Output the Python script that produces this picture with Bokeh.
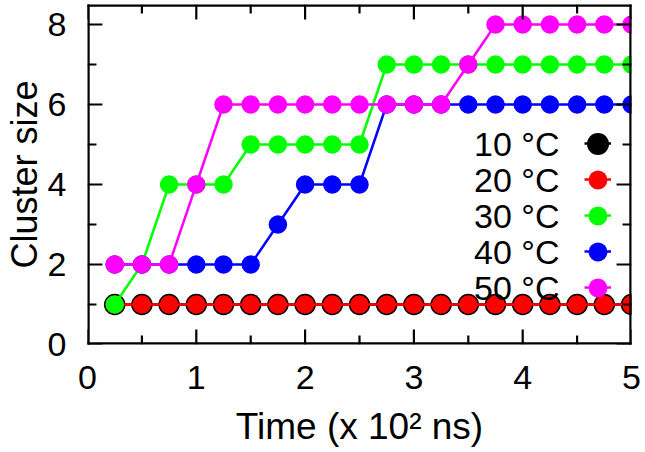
from bokeh.plotting import figure
from bokeh.models import (Range1d, FixedTicker, Legend, LegendItem, Label)
from bokeh.embed import file_html
from bokeh.resources import INLINE

# ---- data ----
time = [0.25, 0.5, 0.75, 1.0, 1.25, 1.5, 1.75, 2.0, 2.25, 2.5,
        2.75, 3.0, 3.25, 3.5, 3.75, 4.0, 4.25, 4.5, 4.75, 5.0]
size_10 = [1, 1, 1, 1, 1, 1, 1, 1, 1, 1, 1, 1, 1, 1, 1, 1, 1, 1, 1, 1]
size_20 = [1, 1, 1, 1, 1, 1, 1, 1, 1, 1, 1, 1, 1, 1, 1, 1, 1, 1, 1, 1]
size_30 = [1, 2, 4, 4, 4, 5, 5, 5, 5, 5, 7, 7, 7, 7, 7, 7, 7, 7, 7, 7]
size_40 = [2, 2, 2, 2, 2, 2, 3, 4, 4, 4, 6, 6, 6, 6, 6, 6, 6, 6, 6, 6]
size_50 = [2, 2, 2, 4, 6, 6, 6, 6, 6, 6, 6, 6, 6, 7, 8, 8, 8, 8, 8, 8]
labels = ["10 °C", "20 °C", "30 °C", "40 °C", "50 °C"]
colors = ["#000000", "#ff0000", "#00ff00", "#0000ff", "#ff00ff"]
series = [size_10, size_20, size_30, size_40, size_50]
x_major_ticks = [0, 1, 2, 3, 4, 5]
x_minor_ticks = [0.5, 1.5, 2.5, 3.5, 4.5]
y_major_ticks = [0, 2, 4, 6, 8]
y_minor_ticks = [1, 3, 5, 7]
x_start, x_end = 0, 5
y_start, y_end = 0, 8.5

FONT = "Liberation Sans"
INK = "#000000"

# ---- layout ----
W, H = 645, 452
B_LEFT, B_RIGHT, B_TOP, B_BOTTOM = 85, 14, 4, 108
FRAME_W = W - B_LEFT - B_RIGHT
FRAME_H = H - B_TOP - B_BOTTOM
PX_X = FRAME_W / (x_end - x_start)   # screen px per x unit
PX_Y = FRAME_H / (y_end - y_start)   # screen px per y unit
MAJOR_LEN, MINOR_LEN = 15, 9
BORDER_HALF = 2.2                    # half frame thickness, px
TICK_HALF = 1.1                      # half tick thickness, px

p = figure(width=W, height=H,
           x_range=Range1d(x_start, x_end), y_range=Range1d(y_start, y_end),
           output_backend="svg", toolbar_location=None,
           min_border_left=B_LEFT, min_border_right=B_RIGHT,
           min_border_top=B_TOP, min_border_bottom=B_BOTTOM)
p.xgrid.grid_line_color = None
p.ygrid.grid_line_color = None
p.outline_line_color = None

for ax in (p.xaxis[0], p.yaxis[0]):
    ax.axis_line_color = None
    ax.major_tick_line_color = None
    ax.minor_tick_line_color = None
    ax.major_tick_out = 0
    ax.minor_tick_out = 0
    ax.major_label_text_font = FONT
    ax.major_label_text_font_size = "34px"
    ax.major_label_text_color = "black"
    ax.axis_label_text_font = FONT
    ax.axis_label_text_font_style = "normal"
    ax.axis_label_text_color = "black"

p.xaxis.ticker = FixedTicker(ticks=x_major_ticks)
p.yaxis.ticker = FixedTicker(ticks=y_major_ticks)
p.xaxis.axis_label = "Time (x 10² ns)"
p.xaxis.axis_label_text_font_size = "37px"
p.xaxis.major_label_standoff = 21
p.xaxis.axis_label_standoff = 14
p.yaxis.axis_label = "Cluster size"
p.yaxis.axis_label_text_font_size = "36px"
p.yaxis.major_label_standoff = 21
p.yaxis.axis_label_standoff = 0

# ---- series: line + points ----
line_rs = []
mark_rs = []
for i, (vals, col) in enumerate(zip(series, colors)):
    lr = p.line(time, vals, line_color=col, line_width=2.5)
    sz = 21.5 if i == 0 else 18.5
    mr = p.scatter(time, vals, marker="circle", size=sz,
                   fill_color=col, line_color=None)
    line_rs.append(lr)
    mark_rs.append(mr)

# ---- frame (filled bars) ----
bx = BORDER_HALF / PX_X
by = BORDER_HALF / PX_Y
p.quad(left=[x_start - bx, x_start - bx, x_start - bx, x_end - bx],
       right=[x_end + bx, x_end + bx, x_start + bx, x_end + bx],
       bottom=[y_start - by, y_end - by, y_start - by, y_start - by],
       top=[y_start + by, y_end + by, y_end + by, y_end + by],
       fill_color=INK, line_color=None)


# ---- inward ticks on all four sides (filled bars) ----
def x_ticks(ticks, length):
    d = length / PX_Y
    h = TICK_HALF / PX_X
    lefts = [t - h for t in ticks]
    rights = [t + h for t in ticks]
    n = len(ticks)
    p.quad(left=lefts + lefts, right=rights + rights,
           bottom=[y_start] * n + [y_end - d] * n,
           top=[y_start + d] * n + [y_end] * n,
           fill_color=INK, line_color=None)


def y_ticks(ticks, length):
    d = length / PX_X
    h = TICK_HALF / PX_Y
    bots = [t - h for t in ticks]
    tops = [t + h for t in ticks]
    n = len(ticks)
    p.quad(left=[x_start] * n + [x_end - d] * n,
           right=[x_start + d] * n + [x_end] * n,
           bottom=bots + bots, top=tops + tops,
           fill_color=INK, line_color=None)


x_ticks(x_major_ticks, MAJOR_LEN)
x_ticks(x_minor_ticks, MINOR_LEN)
y_ticks(y_major_ticks, MAJOR_LEN)
y_ticks(y_minor_ticks, MINOR_LEN)

# ---- key: text on the left, sample (short line + point) on the right ----
KEY_X = 510.5        # frame px from left: centre of the sample
KEY_TOP = 201        # frame px from bottom: centre of first row
ROW = 36
LINE_W = 27

leg_lines = Legend(items=[LegendItem(label=" ", renderers=[r]) for r in line_rs],
                   location=(KEY_X - LINE_W / 2, KEY_TOP + ROW / 2 - 5 * ROW),
                   glyph_width=LINE_W, glyph_height=ROW, spacing=0, padding=0,
                   margin=0, border_line_color=None, background_fill_alpha=0,
                   label_text_font_size="2px", label_text_color=None,
                   label_standoff=0, label_width=0, label_height=0)
p.add_layout(leg_lines, "center")

for k, r in enumerate(mark_rs):
    g = 55 if k == 0 else 47     # marker drawn at 0.4 x glyph box
    leg = Legend(items=[LegendItem(label=" ", renderers=[r])],
                 location=(KEY_X - g / 2, KEY_TOP - k * ROW - g / 2),
                 glyph_width=g, glyph_height=g, spacing=0, padding=0,
                 margin=0, border_line_color=None, background_fill_alpha=0,
                 label_text_font_size="2px", label_text_color=None,
                 label_standoff=0, label_width=0, label_height=0)
    p.add_layout(leg, "center")

for k, lab in enumerate(labels):
    p.add_layout(Label(x=472, y=KEY_TOP - k * ROW, x_units="screen", y_units="screen",
                       text=lab, text_align="right", text_baseline="middle",
                       text_font=FONT, text_font_size="34px", text_color="black"))

open("out.html", "w").write(file_html(p, INLINE))
